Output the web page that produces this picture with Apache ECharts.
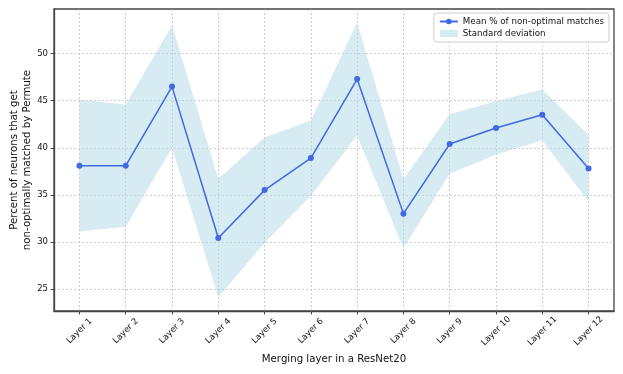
<!DOCTYPE html>
<html>
<head>
<meta charset="utf-8">
<script src="https://cdn.jsdelivr.net/npm/echarts@6/dist/echarts.min.js"></script>
<style>
  html, body { margin: 0; padding: 0; background: #fff; }
  #chart { width: 623px; height: 374px; }
</style>
</head>
<body>
<div id="chart"></div>
<script>
const layers = ["Layer 1", "Layer 2", "Layer 3", "Layer 4", "Layer 5", "Layer 6",
  "Layer 7", "Layer 8", "Layer 9", "Layer 10", "Layer 11", "Layer 12"];
const meanPct = [38.1, 38.1, 46.5, 30.4, 35.5, 38.9, 47.3, 33.0, 40.4, 42.1, 43.5, 37.8];
const stdPct = [7.0, 6.5, 6.5, 6.3, 5.6, 4.0, 6.0, 3.65, 3.15, 2.85, 2.7, 3.55];
const yTicks = [25, 30, 35, 40, 45, 50];

const font = "DejaVu Sans";
const bandColor = "rgba(173,216,230,0.5)";
const chart = echarts.init(document.getElementById("chart"), null, { renderer: "canvas" });

const idx = layers.map((_, i) => i);
// [x, lower, upper] for the shaded std band
const bandData = idx.map(i => [i, meanPct[i] - stdPct[i], meanPct[i] + stdPct[i]]);
const meanData = idx.map(i => [i, meanPct[i]]);

// whole band as one polygon so the translucent fill has no seams
function renderBand(params, api) {
  if (params.dataIndex !== 0) return null;
  const top = bandData.map(d => api.coord([d[0], d[2]]));
  const bottom = bandData.map(d => api.coord([d[0], d[1]])).reverse();
  return {
    type: "polygon",
    shape: { points: top.concat(bottom) },
    style: { fill: bandColor },
    silent: true
  };
}

const options = {
  animation: false,
  textStyle: { fontFamily: font },
  grid: {
    left: 54, right: 9, top: 9, bottom: 63,
    outerBoundsMode: "none",
    containLabel: false,
    show: true, borderColor: "#444", borderWidth: 1.3, backgroundColor: "transparent"
  },
  legend: {
    orient: "vertical",
    right: 14,
    top: 13,
    padding: [4, 5, 4, 5],
    itemGap: 3,
    itemWidth: 18,
    itemHeight: 7,
    backgroundColor: "#fff",
    borderColor: "#ccc",
    borderWidth: 1,
    borderRadius: 3,
    textStyle: { fontFamily: font, fontSize: 8.7, color: "#111" },
    data: [
      { name: "Mean % of non-optimal matches" },
      { name: "Standard deviation", icon: "rect", itemStyle: { color: bandColor } }
    ]
  },
  xAxis: {
    type: "value",
    min: -0.55,
    max: 11.55,
    minInterval: 1,
    maxInterval: 1,
    name: "Merging layer in a ResNet20",
    nameLocation: "middle",
    nameGap: 43,
    nameMoveOverlap: false,
    nameTextStyle: { fontFamily: font, fontSize: 10.2, color: "#111" },
    axisLine: { show: true, onZero: false, lineStyle: { color: "#444", width: 1.3 } },
    axisTick: { show: true, length: 3.5, customValues: idx, lineStyle: { color: "#444" } },
    axisLabel: {
      customValues: idx,
      formatter: v => layers[Math.round(v)],
      rotate: 45,
      align: "center",
      verticalAlign: "middle",
      margin: 20,
      fontFamily: font,
      fontSize: 8.5,
      color: "#111"
    },
    splitLine: { show: true, lineStyle: { color: "#bbb", type: [2, 2], width: 0.7 } }
  },
  yAxis: {
    type: "value",
    min: 22.65,
    max: 54.75,
    minInterval: 5,
    maxInterval: 5,
    name: "Percent of neurons that get\nnon-optimally matched by Permute",
    nameLocation: "middle",
    nameRotate: 90,
    nameGap: 20,
    nameMoveOverlap: false,
    nameTextStyle: { fontFamily: font, fontSize: 10.2, color: "#111", lineHeight: 13 },
    axisLine: { show: true, onZero: false, lineStyle: { color: "#444", width: 1.3 } },
    axisTick: { show: true, length: 3.5, customValues: yTicks, lineStyle: { color: "#444" } },
    axisLabel: { customValues: yTicks, margin: 6, fontFamily: font, fontSize: 8.5, color: "#111" },
    splitLine: { show: true, lineStyle: { color: "#bbb", type: [2, 2], width: 0.7 } }
  },
  series: [
    {
      name: "Standard deviation",
      type: "custom",
      renderItem: renderBand,
      data: bandData,
      encode: { x: 0, y: [1, 2] },
      itemStyle: { color: bandColor },
      silent: true,
      z: 1
    },
    {
      name: "Mean % of non-optimal matches",
      type: "line",
      data: meanData,
      symbol: "circle",
      symbolSize: 6,
      itemStyle: { color: "#4169E1" },
      lineStyle: { color: "#4169E1", width: 1.5 },
      z: 5
    }
  ]
};
chart.setOption(options);
</script>
</body>
</html>
